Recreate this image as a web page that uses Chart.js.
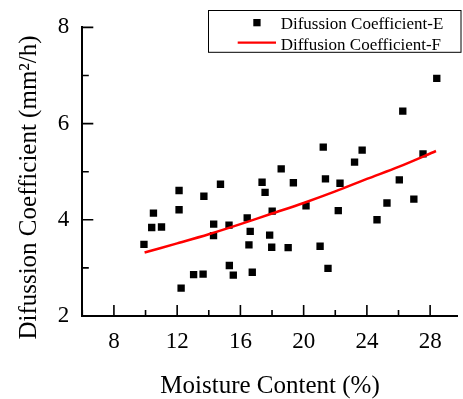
<!DOCTYPE html>
<html>
<head>
<meta charset="utf-8">
<script src="https://cdn.jsdelivr.net/npm/chart.js@4/dist/chart.umd.min.js"></script>
<style>
    html, body { margin: 0; padding: 0; background: #fff; overflow: hidden; }
</style>
</head>
<body>
<canvas id="chart" width="463" height="399"></canvas>
<script>
// Scatter series E.
const moistureE = [9.90, 10.39, 10.50, 11.01, 12.12, 12.12, 12.25, 13.04, 13.64, 13.69,
    14.30, 14.31, 14.74, 15.28, 15.30, 15.55, 16.43, 16.54, 16.62, 16.75,
    17.37, 17.56, 17.85, 17.98, 18.01, 18.58, 19.02, 19.35, 20.15, 21.04,
    21.24, 21.38, 21.54, 22.19, 22.30, 23.22, 23.70, 24.64, 25.27, 26.05,
    26.27, 26.97, 27.55, 28.42];
const diffusionE = [3.49, 3.84, 4.14, 3.85, 4.21, 4.61, 2.58, 2.86, 2.87, 4.49,
    3.67, 3.91, 4.74, 3.89, 3.05, 2.85, 4.04, 3.48, 3.76, 2.91,
    4.78, 4.57, 3.68, 3.43, 4.18, 5.06, 3.42, 4.77, 4.29, 3.45,
    5.51, 4.85, 2.99, 4.19, 4.76, 5.20, 5.45, 4.00, 4.35, 4.83,
    6.26, 4.43, 5.37, 6.94];

// Fitted curve F.
const moistureF = [9.94, 12, 14, 16, 18, 20, 22, 24, 26, 28.37];
const diffusionF = [3.32, 3.51, 3.70, 3.91, 4.13, 4.35, 4.59, 4.85, 5.10, 5.43];

const xTickLabels = [8, 12, 16, 20, 24, 28];
const xTickMarks = [6, 8, 10, 12, 14, 16, 18, 20, 22, 24, 26, 28];
const yTickLabels = [2, 4, 6, 8];
const yTickMarks = [2, 3, 4, 5, 6, 7, 8];

const labelE = "Difussion Coefficient-E";
const labelF = "Diffusion Coefficient-F";
const yTitle = "Difussion Coefficient (mm\u00B2/h)";
const xTitle = "Moisture Content (%)";

const serif = "'Liberation Serif', 'Times New Roman', serif";

// Inward tick marks, long at labelled values, short in between.
const tickMarksPlugin = {
    id: "tickMarks",
    afterDraw(chart) {
        const ctx = chart.ctx;
        const xs = chart.scales.x;
        const ys = chart.scales.y;
        const area = chart.chartArea;
        ctx.save();
        ctx.strokeStyle = "#000";
        ctx.lineWidth = 1.6;
        ctx.beginPath();
        xTickMarks.forEach(v => {
            const px = xs.getPixelForValue(v);
            const len = xTickLabels.includes(v) ? 11 : 6;
            ctx.moveTo(px, area.bottom);
            ctx.lineTo(px, area.bottom - len);
        });
        yTickMarks.forEach(v => {
            const py = ys.getPixelForValue(v);
            const len = yTickLabels.includes(v) ? 11 : 6.5;
            ctx.moveTo(area.left, py);
            ctx.lineTo(area.left + len, py);
        });
        ctx.stroke();
        ctx.restore();
    }
};

// Rotated y title and the boxed legend.
const annotationsPlugin = {
    id: "annotations",
    afterDraw(chart) {
        const ctx = chart.ctx;
        ctx.save();
        ctx.fillStyle = "#000";
        ctx.font = "25px " + serif;
        ctx.translate(36, 187.5);
        ctx.rotate(-Math.PI / 2);
        ctx.textAlign = "center";
        ctx.textBaseline = "alphabetic";
        ctx.fillText(yTitle, 0, 0);
        ctx.restore();

        ctx.save();
        ctx.fillStyle = "#fff";
        ctx.fillRect(208, 10, 253, 42.3);
        ctx.strokeStyle = "#000";
        ctx.lineWidth = 1;
        ctx.strokeRect(208.5, 10.5, 252.5, 41.8);

        ctx.fillStyle = "#000";
        ctx.fillRect(253.3, 19, 7.3, 7.3);
        ctx.strokeStyle = "#ff0000";
        ctx.lineWidth = 2.2;
        ctx.beginPath();
        ctx.moveTo(237.7, 42.7);
        ctx.lineTo(276, 42.7);
        ctx.stroke();

        ctx.fillStyle = "#000";
        ctx.font = "17px " + serif;
        ctx.textAlign = "left";
        ctx.textBaseline = "alphabetic";
        ctx.fillText(labelE, 280.7, 29.3);
        ctx.fillText(labelF, 280.7, 50.3);
        ctx.restore();
    }
};

new Chart(document.getElementById("chart"), {
    type: "scatter",
    data: {
        datasets: [
            {
                type: "line",
                label: labelF,
                data: moistureF.map((x, i) => ({ x: x, y: diffusionF[i] })),
                borderColor: "#ff0000",
                borderWidth: 2.5,
                pointRadius: 0,
                fill: false,
                tension: 0.3,
                order: 0
            },
            {
                label: labelE,
                data: moistureE.map((x, i) => ({ x: x, y: diffusionE[i] })),
                pointStyle: "rect",
                pointRadius: 5.2,
                backgroundColor: "#000",
                borderWidth: 0,
                order: 1
            }
        ]
    },
    options: {
        responsive: false,
        animation: false,
        devicePixelRatio: 1,
        layout: { padding: { top: 27.4, right: 0, left: 0, bottom: 0 } },
        plugins: {
            legend: { display: false },
            tooltip: { enabled: false }
        },
        scales: {
            x: {
                type: "linear",
                min: 6,
                max: 29.75,
                afterBuildTicks: s => { s.ticks = xTickLabels.map(v => ({ value: v })); },
                afterFit: s => { s.height = 83; },
                grid: { display: false, drawTicks: false },
                border: { display: true, color: "#000", width: 2 },
                ticks: {
                    color: "#000",
                    font: { family: serif, size: 23 },
                    padding: 12,
                    maxRotation: 0
                },
                title: {
                    display: true,
                    text: xTitle,
                    color: "#000",
                    font: { family: serif, size: 25, lineHeight: 1 },
                    padding: { top: 0, bottom: 0.5 }
                }
            },
            y: {
                type: "linear",
                min: 2,
                max: 8,
                afterBuildTicks: s => { s.ticks = yTickLabels.map(v => ({ value: v })); },
                afterFit: s => { s.width = 82.3; },
                grid: { display: false, drawTicks: false },
                border: { display: true, color: "#000", width: 2 },
                ticks: {
                    color: "#000",
                    font: { family: serif, size: 23 },
                    padding: 13
                }
            }
        }
    },
    plugins: [tickMarksPlugin, annotationsPlugin]
});
</script>
</body>
</html>
